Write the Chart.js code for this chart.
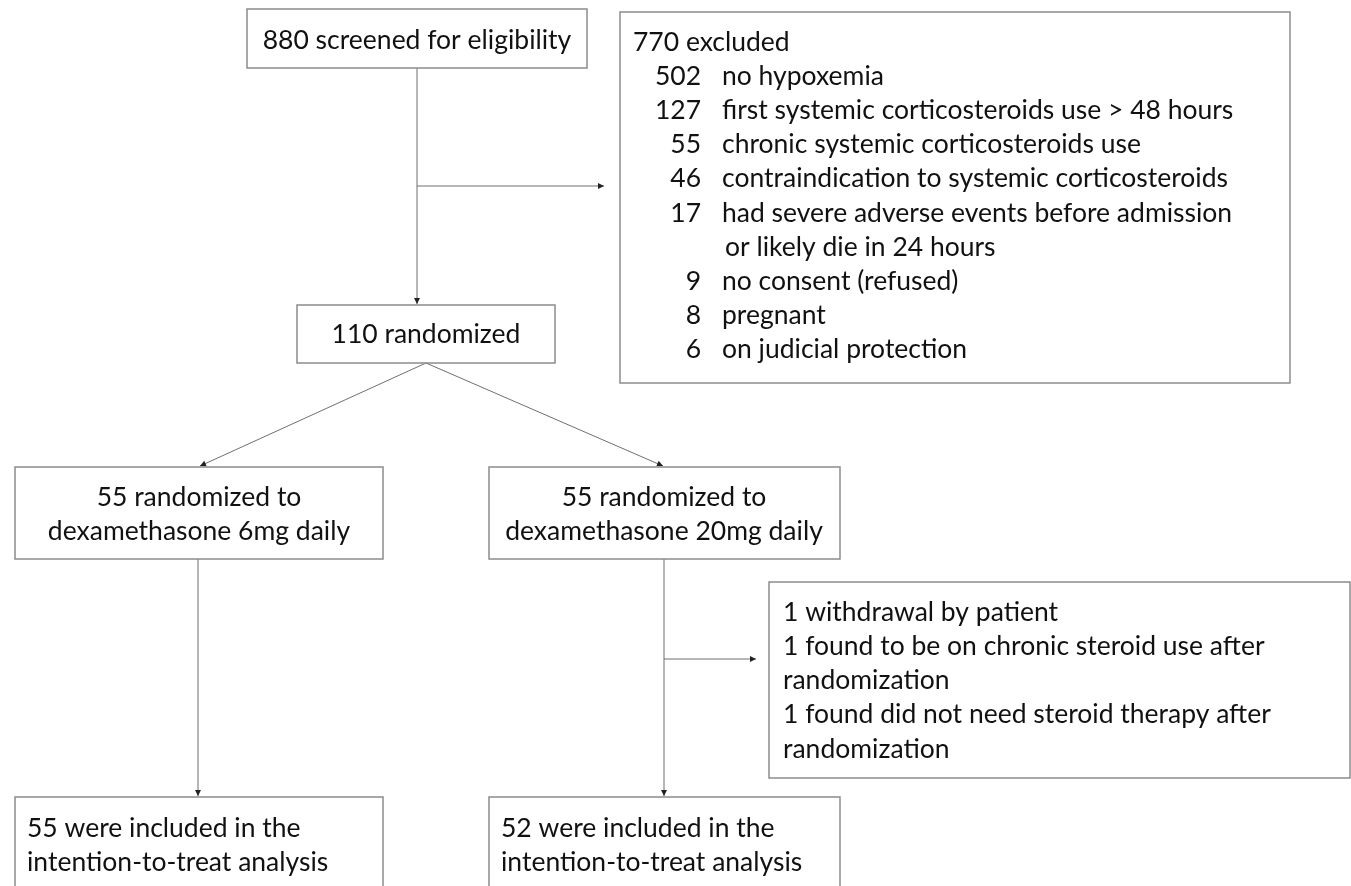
<!DOCTYPE html>
<html><head><meta charset="utf-8">
<script src="https://cdn.jsdelivr.net/npm/chart.js@4.4.1/dist/chart.umd.min.js"></script>
<style>html,body{margin:0;padding:0;background:#fff;overflow:hidden}#wrap{width:1351px;height:886px;position:relative}</style>
</head><body><div id="wrap"><canvas id="c" width="1351" height="886"></canvas></div>
<script>
// ---- data ----
const screened = 880;
const randomized = 110;
const excludedTotal = 770;
const exclusionCounts = [502, 127, 55, 46, 17, 9, 8, 6];
const exclusionReasons = [
  ['no hypoxemia'],
  ['first systemic corticosteroids use > 48 hours'],
  ['chronic systemic corticosteroids use'],
  ['contraindication to systemic corticosteroids'],
  ['had severe adverse events before admission', 'or likely die in 24 hours'],
  ['no consent (refused)'],
  ['pregnant'],
  ['on judicial protection']
];
const armDoses = ['dexamethasone 6mg daily', 'dexamethasone 20mg daily'];
const armRandomized = [55, 55];
const armAnalyzed = [55, 52];
const postRandomCounts = [1, 1, 1];
const postRandomReasons = [
  ['withdrawal by patient'],
  ['found to be on chronic steroid use after', 'randomization'],
  ['found did not need steroid therapy after', 'randomization']
];

// ---- styles ----
const FONT = '26.5px Lato';
const BORDER = '#8c8c8c';
const LINE = '#6f6f6f';
const TEXT = '#111';

const flowPlugin = {
  id: 'flow',
  afterDraw(chart) {
    const ctx = chart.ctx;
    const sx = chart.scales.x, sy = chart.scales.y;
    const X = v => sx.getPixelForValue(v);
    const Y = v => sy.getPixelForValue(v);
    ctx.save();
    const box = (x0, y0, x1, y1) => {
      ctx.strokeStyle = BORDER; ctx.lineWidth = 1.5;
      ctx.strokeRect(X(x0), Y(y0), X(x1) - X(x0), Y(y1) - Y(y0));
    };
    const line = (x0, y0, x1, y1) => {
      ctx.strokeStyle = LINE; ctx.lineWidth = 1;
      ctx.beginPath(); ctx.moveTo(X(x0), Y(y0)); ctx.lineTo(X(x1), Y(y1)); ctx.stroke();
    };
    const arrow = (x0, y0, x1, y1) => {
      line(x0, y0, x1, y1);
      const a = Math.atan2(Y(y1) - Y(y0), X(x1) - X(x0));
      const L = 6, W = 3;
      const px = X(x1), py = Y(y1);
      ctx.fillStyle = '#222';
      ctx.beginPath();
      ctx.moveTo(px, py);
      ctx.lineTo(px - L * Math.cos(a) + W * Math.sin(a), py - L * Math.sin(a) - W * Math.cos(a));
      ctx.lineTo(px - L * Math.cos(a) - W * Math.sin(a), py - L * Math.sin(a) + W * Math.cos(a));
      ctx.closePath(); ctx.fill();
    };
    const text = (s, x, y, align) => {
      ctx.font = FONT; ctx.fillStyle = TEXT; ctx.textBaseline = 'middle';
      ctx.textAlign = align || 'left';
      ctx.fillText(s, X(x), Y(y));
    };

    // connectors
    line(417, 68, 417, 186);
    arrow(417, 186, 417, 304);
    arrow(417, 186, 604, 186);
    arrow(426, 363, 200, 466);
    arrow(426, 363, 663, 466);
    arrow(198, 559, 198, 796);
    line(664, 559, 664, 659);
    arrow(664, 659, 664, 796);
    arrow(664, 659, 756, 659);

    // screened
    box(247, 9, 587, 68);
    text(screened + ' screened for eligibility', 417, 40, 'center');

    // excluded
    box(620, 12, 1290, 383);
    text(excludedTotal + ' excluded', 633, 42);
    let row = 1;
    const rowH = 34.2;
    exclusionCounts.forEach((n, i) => {
      text(String(n), 701, 42 + row * rowH, 'right');
      exclusionReasons[i].forEach((s, j) => {
        text(s, j === 0 ? 722 : 725, 42 + row * rowH);
        row++;
      });
    });

    // randomized
    box(297, 305, 555, 363);
    text(randomized + ' randomized', 426, 334, 'center');

    // arms
    const armBox = [[15, 383, 199], [489, 840, 664]];
    armBox.forEach((b, i) => {
      box(b[0], 467, b[1], 559);
      text(armRandomized[i] + ' randomized to', b[2], 497, 'center');
      text(armDoses[i], b[2], 531, 'center');
      box(b[0], 797, b[1], 900);
      text(armAnalyzed[i] + ' were included in the', b[0] + 12, 828);
      text('intention-to-treat analysis', b[0] + 12, 862);
    });

    // post-randomisation exclusions
    box(769, 582, 1350, 778);
    let r = 0;
    postRandomCounts.forEach((n, i) => {
      postRandomReasons[i].forEach((s, j) => {
        text(j === 0 ? n + ' ' + s : s, 783, 612 + r * 34.3);
        r++;
      });
    });
    ctx.restore();
  }
};

new Chart(document.getElementById('c'), {
  type: 'scatter',
  data: { datasets: [{ data: [] }] },
  options: {
    responsive: false,
    animation: false,
    layout: { padding: 0 },
    plugins: { legend: { display: false }, tooltip: { enabled: false } },
    scales: {
      x: { type: 'linear', min: 0, max: 1351, display: false },
      y: { type: 'linear', min: 0, max: 886, reverse: true, display: false }
    }
  },
  plugins: [flowPlugin]
});
</script></body></html>
